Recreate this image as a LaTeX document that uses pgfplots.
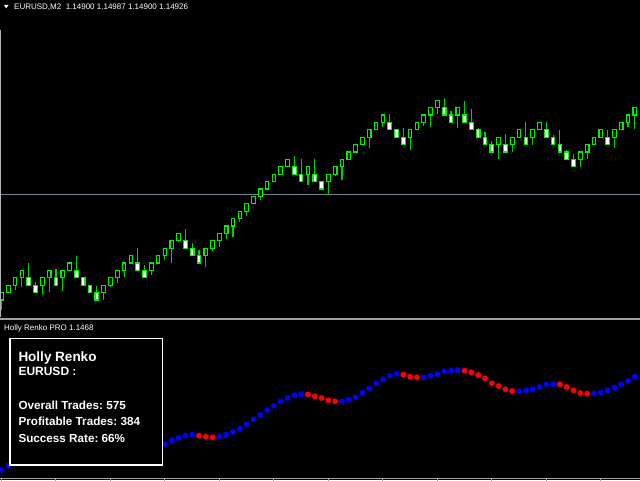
\documentclass[border=0pt]{standalone}
\usepackage{pgfplots}
\pgfplotsset{compat=1.18}
\usepackage{pgfplotstable}
\usepackage{fontspec}
\setmainfont{Liberation Sans}[BoldFont={Liberation Sans Bold}]
\frenchspacing

\definecolor{mtlime}{HTML}{00F000}
\definecolor{wick}{HTML}{00D000}
\definecolor{bidline}{HTML}{778899}
\definecolor{sepgray}{HTML}{A0A0A0}
\definecolor{dotblue}{HTML}{0000FF}
\definecolor{dotred}{HTML}{FF0000}

% renko brick body: one brick = 7.4pt tall on the upper axis
\pgfdeclareplotmark{brick}{%
  \pgfpathrectangle{\pgfqpoint{-1.8pt}{-3.7pt}}{\pgfqpoint{3.6pt}{7.4pt}}%
  \pgfusepathqfillstroke}

% bull bricks: index, body bottom (bricks), wick low, wick high
\pgfplotstableread{
i b lo hi
0 0 -1.35 1
1 1 1 2
2 2 1.35 3
3 3 1.7 4
6 2 0.68 3
7 3 1.04 4
9 3 1.26 4
10 4 3.9 5
15 1 0 2
16 2 1.7 3
17 3 2.3 4
18 4 3.07 5
19 5 5 6
22 4 3.4 5
23 5 5 6
24 6 5.4 7
25 7 5.04 8
26 8 7.9 9
30 6 4.4 7
31 7 6.6 8
32 8 7.2 9
33 9 8.2 10
34 10 8.56 11
35 11 10.58 12
36 12 11.39 13
37 13 13 14
38 14 13.5 15
39 15 15 16
40 16 16 17
41 17 17 18
42 18 18 19
45 17 15.5 18
48 16 14.2 17
49 17 16.76 18
50 18 16.2 19
51 19 19 20
52 20 20 21
53 21 21 22
54 22 20.6 23
55 23 23 24
56 24 23.4 25
60 22 20.3 23
61 23 23 24
62 24 23.55 25
63 25 23.4 26
64 26 25.1 27
67 25 23.2 26
73 21 19.1 22
75 21 19.96 22
76 22 22 23
78 22 20.9 23
79 23 23 24
85 19 18.0 20
86 20 19.1 21
87 21 21 22
88 22 22 23
90 22 20.5 23
91 23 23 24
92 24 23.4 25
93 25 23.07 26
94 26 26 27
}\bull

% bear bricks
\pgfplotstableread{
i b lo hi
4 2 2 4.96
5 1 1 2.47
8 2 2 4.15
11 3 3 6.0
12 2 2 3
13 1 1 2
14 0 0 1.9
20 4 4 7.07
21 3 3 4.7
27 7 7 9.6
28 6 6 7.74
29 5 5 6.76
43 17 17 19.4
44 16 16 19.0
46 16 16 19.0
47 15 15 16
57 23 23 25.1
58 22 22 23
59 21 21 23.3
65 25 25 27.3
66 24 24 25.5
68 24 24 26.9
69 23 23 25.8
70 22 22 23.3
71 21 21 22.7
72 20 20 21.5
74 20 20 22.4
77 21 21 24.1
80 22 22 24.0
81 21 21 22.3
82 20 20 23.0
83 19 19 20.3
84 18 18 19.7
89 21 21 23.0
}\bear

% indicator dots (height in px above bottom edge)
\pgfplotstableread{
i y
0 10
1 14.3
24 36
25 39.7
26 42
27 44.3
28 45.3
32 43.7
33 45.3
34 48
35 51.3
36 55.7
37 60.7
38 65
39 70
40 74.3
41 78.7
42 82
43 84.7
44 85.7
50 78.7
51 80.3
52 82.7
53 87.3
54 91.3
55 96.7
56 100.7
57 104.3
58 106
62 102.7
63 104.3
64 106
65 108.7
66 109.3
67 110
76 88.7
77 89.7
78 90.7
79 93
80 95.7
81 95.7
87 86.3
88 87.7
89 89.7
90 92.3
91 95.7
92 99
93 103.3
94 107.7
}\bluedots

\pgfplotstableread{
i y
29 44.3
30 43.3
31 42.7
45 85.7
46 83.7
47 82
48 79.7
49 78.7
59 105.3
60 103.3
61 102.7
68 109.3
69 107.7
70 105
71 101.7
72 96.7
73 94
74 90.7
75 89
82 95.7
83 93
84 89.7
85 87
86 86.3
}\reddots

\begin{document}
\begin{tikzpicture}
\useasboundingbox (0pt,0pt) rectangle (640pt,480pt);
\fill[black] (0pt,0pt) rectangle (640pt,480pt);

% price panel
\begin{axis}[
    at={(0pt,162pt)}, anchor=south west,
    scale only axis, width=640pt, height=318pt,
    xmin=-0.22, xmax=93.76,
    ymin=-2.4324, ymax=40.5405,
    hide axis, clip=true,
  ]
  \addplot[bidline, line width=1.3pt, forget plot] coordinates {(-1,14.26) (95,14.26)};

  % wicks
  \addplot[only marks, mark=none, forget plot,
    error bars/.cd, y dir=both, y explicit, error mark=none,
    error bar style={draw=wick, line width=1.1pt}]
    table[x=i, y expr=\thisrow{b}+0.5,
      y error plus expr=\thisrow{hi}-\thisrow{b}-0.5,
      y error minus expr=\thisrow{b}+0.5-\thisrow{lo}] {\bull};
  \addplot[only marks, mark=none, forget plot,
    error bars/.cd, y dir=both, y explicit, error mark=none,
    error bar style={draw=wick, line width=1.1pt}]
    table[x=i, y expr=\thisrow{b}+0.5,
      y error plus expr=\thisrow{hi}-\thisrow{b}-0.5,
      y error minus expr=\thisrow{b}+0.5-\thisrow{lo}] {\bear};

  % bodies
  \addplot[only marks, mark=brick, mark options={draw=mtlime, fill=black, line width=1.1pt}]
    table[x=i, y expr=\thisrow{b}+0.5] {\bull};
  \addplot[only marks, mark=brick, mark options={draw=mtlime, fill=white, line width=1.1pt}]
    table[x=i, y expr=\thisrow{b}+0.5] {\bear};
\end{axis}

% indicator panel
\begin{axis}[
    at={(0pt,1.5pt)}, anchor=south west,
    scale only axis, width=640pt, height=158.5pt,
    xmin=-0.22, xmax=93.76,
    ymin=1.5, ymax=160,
    axis x line*=bottom, axis y line=none,
    xtick={0,8,...,88}, xticklabels={},
    tick align=outside, major tick length=2.5pt,
    x axis line style={draw=sepgray, line width=1.5pt},
    every tick/.style={draw=sepgray, line width=1pt},
    clip=true,
  ]
  \addplot[only marks, mark=*, mark size=3.3pt, mark options={draw=none, fill=dotblue}]
    table[x=i, y=y] {\bluedots};
  \addplot[only marks, mark=*, mark size=3.3pt, mark options={draw=none, fill=dotred}]
    table[x=i, y=y] {\reddots};
\end{axis}

% panel separator and frame
\draw[sepgray, line width=2pt] (0pt,161.5pt) -- (640pt,161.5pt);
\draw[sepgray!80, line width=1pt] (0.5pt,163pt) -- (0.5pt,450pt);

% header
\fill[white] (4pt,475pt) -- (8.5pt,475pt) -- (6.25pt,471.7pt) -- cycle;
\node[anchor=base west, inner sep=0pt, text=white, font=\fontsize{8pt}{9pt}\selectfont]
  at (14pt,470pt) {EURUSD,M2\ \ 1.14900 1.14987 1.14900 1.14926};
\node[anchor=base west, inner sep=0pt, text=white, font=\fontsize{8pt}{9pt}\selectfont]
  at (4pt,149.3pt) {Holly Renko PRO 1.1468};

% info box
\draw[white, line width=1.5pt, fill=black] (10pt,15pt) rectangle (162.3pt,141.7pt);
\node[anchor=base west, inner sep=0pt, text=white, font=\bfseries\fontsize{13.5pt}{15pt}\selectfont]
  at (18.3pt,118.3pt) {Holly Renko};
\node[anchor=base west, inner sep=0pt, text=white, font=\bfseries\fontsize{12pt}{14pt}\selectfont]
  at (18.3pt,105pt) {EURUSD :};
\node[anchor=base west, inner sep=0pt, text=white, font=\bfseries\fontsize{11.7pt}{14pt}\selectfont]
  at (18.3pt,71pt) {Overall Trades: 575};
\node[anchor=base west, inner sep=0pt, text=white, font=\bfseries\fontsize{11.7pt}{14pt}\selectfont]
  at (18.3pt,54.3pt) {Profitable Trades: 384};
\node[anchor=base west, inner sep=0pt, text=white, font=\bfseries\fontsize{11.7pt}{14pt}\selectfont]
  at (18.3pt,37.3pt) {Success Rate: 66\%};
\end{tikzpicture}
\end{document}
